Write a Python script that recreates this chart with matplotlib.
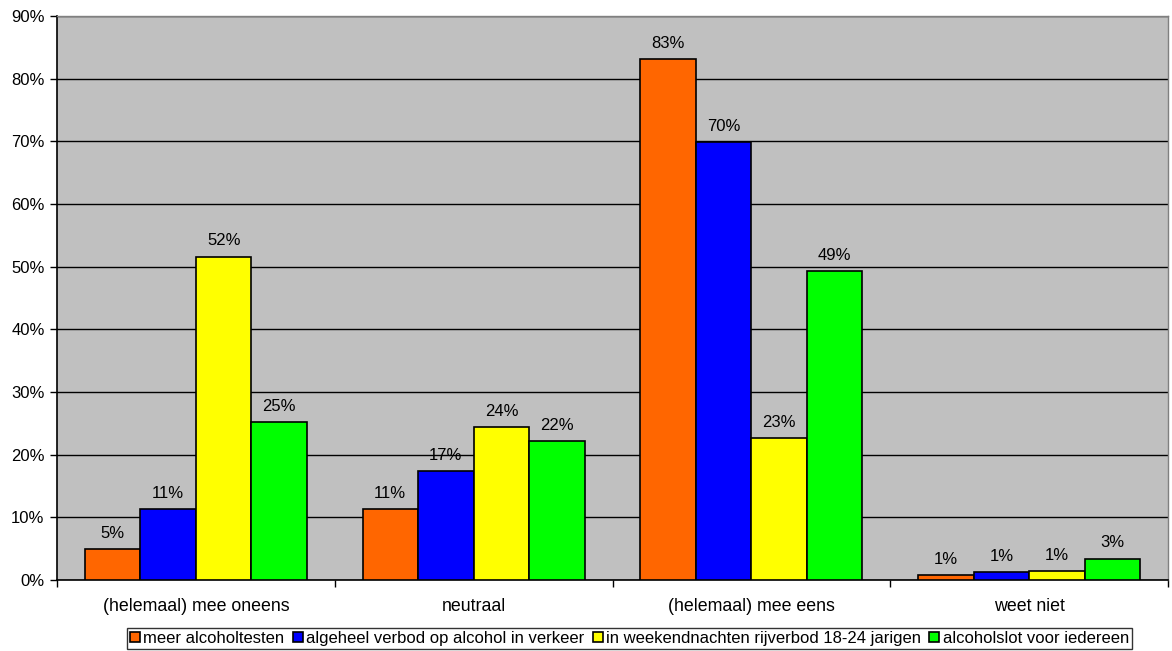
import numpy as np
import matplotlib.pyplot as plt

categories = ['(helemaal) mee oneens', 'neutraal', '(helemaal) mee eens', 'weet niet']
series = ['meer alcoholtesten', 'algeheel verbod op alcohol in verkeer',
          'in weekendnachten rijverbod 18-24 jarigen', 'alcoholslot voor iedereen']
alcoholtesten = [4.9, 11.3, 83.1, 0.8]
algeheel_verbod = [11.3, 17.4, 69.9, 1.3]
rijverbod = [51.6, 24.4, 22.6, 1.4]
alcoholslot = [25.2, 22.2, 49.3, 3.4]
colors = ['#FF6600', '#0000FF', '#FFFF00', '#00FF00']

plt.rcParams['font.family'] = ['Liberation Sans', 'DejaVu Sans']
fs = 12

fig = plt.figure(figsize=(11.72, 6.51), dpi=100)
ax = fig.add_axes([57 / 1172, 71 / 651, 1111 / 1172, 564 / 651])
ax.set_facecolor('#C0C0C0')

x = np.arange(len(categories))
w = 0.2
values = [alcoholtesten, algeheel_verbod, rijverbod, alcoholslot]
for i, (vals, name, c) in enumerate(zip(values, series, colors)):
    pos = x + (i - 1.5) * w
    bars = ax.bar(pos, vals, w, color=c, edgecolor='black', linewidth=1.2,
                  label=name, zorder=3)
    for b, v in zip(bars, vals):
        ax.annotate(f'{round(v):.0f}%', (b.get_x() + b.get_width() / 2, v),
                    xytext=(0, 6), textcoords='offset points',
                    ha='center', va='bottom', fontsize=fs, zorder=4)

ax.set_xlim(-0.5, 3.5)
ax.set_ylim(0, 90)
ax.set_yticks(np.arange(0, 91, 10))
ax.set_yticklabels([f'{t}%' for t in range(0, 91, 10)], fontsize=fs)
ax.yaxis.grid(True, color='black', linewidth=1, zorder=1)
ax.set_axisbelow(True)

ax.set_xticks(x)
ax.set_xticklabels(categories, fontsize=12.8)
ax.set_xticks(np.arange(-0.5, 3.6, 1), minor=True)
ax.tick_params(axis='x', which='major', length=0, pad=13)
ax.tick_params(axis='x', which='minor', length=5, width=1, direction='out')
ax.tick_params(axis='y', length=5, width=1, direction='out', pad=4)

for s in ['left', 'bottom']:
    ax.spines[s].set_color('black')
    ax.spines[s].set_linewidth(1.2)
for s in ['top', 'right']:
    ax.spines[s].set_color('#808080')
    ax.spines[s].set_linewidth(1)

leg = fig.legend(loc='lower center', bbox_to_anchor=(0.537, 0.0), ncol=4,
                 fontsize=fs, frameon=True, fancybox=False, edgecolor='black',
                 handlelength=0.6, handleheight=0.6, handletextpad=0.2,
                 columnspacing=0.5, borderpad=0.2, borderaxespad=0.1)
leg.get_frame().set_linewidth(1)

fig.savefig('out.png', dpi=100)
